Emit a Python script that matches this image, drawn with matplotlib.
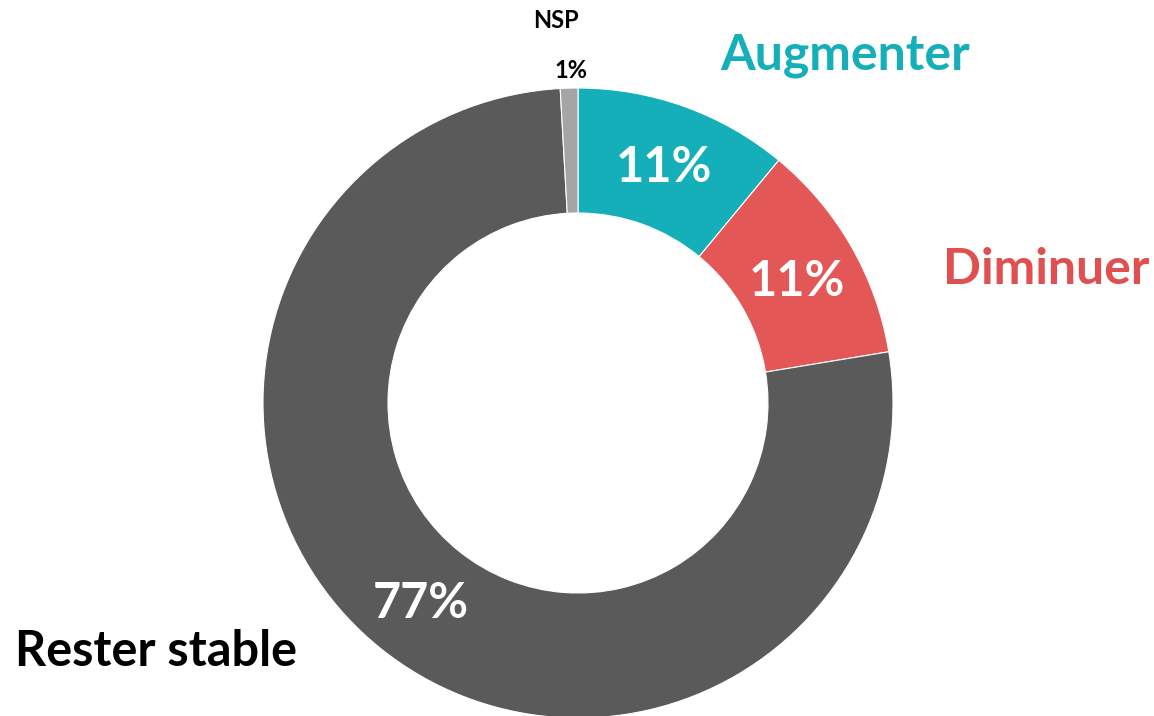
import matplotlib
matplotlib.use('Agg')
from matplotlib import pyplot as plt

# donnees
categories = ['Augmenter', 'Diminuer', 'Rester stable', 'NSP']
valeurs = [11.0, 11.4, 76.7, 0.9]
etiquettes = ['11%', '11%', '77%', '1%']
couleurs = ['#14AFB8', '#E35757', '#5A5A5A', '#A5A5A5']

plt.rcParams['font.family'] = ['Lato', 'DejaVu Sans']

fig = plt.figure(figsize=(11.54, 7.16), dpi=100)
ax = fig.add_axes([0, 0, 1, 1])

# anneau : centre et rayon en pixels
cx, cy, R = 578, 313, 315
wedges, _ = ax.pie(valeurs, colors=couleurs, startangle=90, counterclock=False,
                   center=(cx, cy), radius=R,
                   wedgeprops=dict(width=125, edgecolor='white', linewidth=0.8))
ax.set_xlim(0, 1154)
ax.set_ylim(0, 716)
ax.set_aspect('equal')
ax.axis('off')

# pourcentages dans l'anneau
ax.text(664, 716 - 168, etiquettes[0], color='white', fontsize=35, fontweight='bold', ha='center', va='center')
ax.text(797, 716 - 281, etiquettes[1], color='white', fontsize=35, fontweight='bold', ha='center', va='center')
ax.text(421, 716 - 603, etiquettes[2], color='white', fontsize=35, fontweight='bold', ha='center', va='center')
ax.text(571, 716 - 71, etiquettes[3], color='black', fontsize=17, fontweight='bold', ha='center', va='center')

# noms des categories
ax.text(845, 716 - 55, categories[0], color='#14AFB8', fontsize=36, fontweight='bold', ha='center', va='center')
ax.text(1046, 716 - 270, categories[1], color='#E05050', fontsize=36, fontweight='bold', ha='center', va='center')
ax.text(15, 716 - 652, categories[2], color='black', fontsize=35, fontweight='bold', ha='left', va='center')
ax.text(556, 716 - 20, categories[3], color='black', fontsize=17, fontweight='bold', ha='center', va='center')

plt.savefig('out.png', dpi=100)
